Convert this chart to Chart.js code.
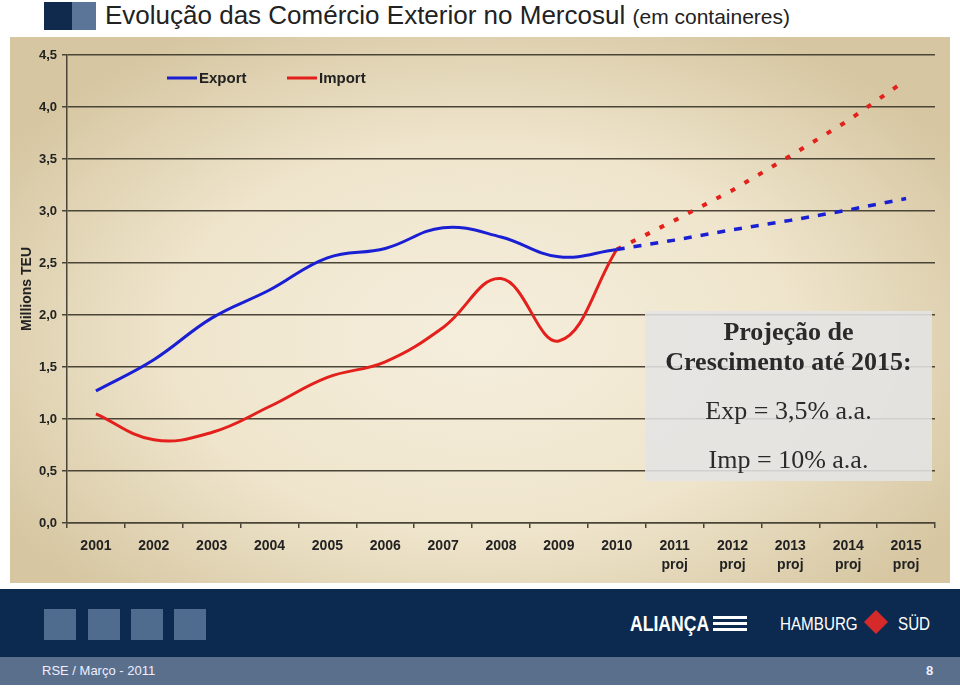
<!DOCTYPE html>
<html>
<head>
<meta charset="utf-8">
<script src="https://cdn.jsdelivr.net/npm/chart.js@4.4.1/dist/chart.umd.min.js"></script>
<style>
  body { margin: 0; width: 960px; height: 690px; background: #fff; position: relative; overflow: hidden; font-family: Arial, "Liberation Sans", sans-serif; }
  .sq { position: absolute; }
  #titulo { position: absolute; left: 105px; top: 0px; font-size: 26px; color: #222; white-space: nowrap; }
  #titulo small { font-size: 21px; }
  #painel { position: absolute; left: 10px; top: 37px; width: 940px; height: 546px;
    background: radial-gradient(ellipse 60% 65% at 50% 55%, #f5eedd 0%, #efe5cc 55%, #d6c6a1 100%); }
  #projecao { position: absolute; left: 645px; top: 311px; width: 287px; height: 170px;
    background: rgba(228,228,228,0.88); font-family: "Liberation Serif", "Times New Roman", serif;
    color: #2a2a2a; text-align: center; font-size: 26px; }
  #projecao div { position: absolute; left: 0; right: 0; white-space: nowrap; }
  #faixa { position: absolute; left: 0; top: 589px; width: 960px; height: 68px; background: #0c2a4f; }
  #rodape { position: absolute; left: 0; top: 657px; width: 960px; height: 28px; background: #5a6f8c; color: #eef; font-size: 13px; }
  .logo { position: absolute; color: #fff; white-space: nowrap; transform-origin: left center; transform: scaleX(0.8); }
</style>
</head>
<body>
<div class="sq" style="left:44px;top:2px;width:28px;height:28px;background:#0f2a4d"></div>
<div class="sq" style="left:72px;top:2px;width:24px;height:28px;background:#5b7598"></div>
<div id="titulo">Evolução das Comércio Exterior no Mercosul <small>(em containeres)</small></div>

<div id="painel"><canvas id="grafico" width="940" height="546"></canvas></div>

<div id="projecao">
  <div style="top:6px;font-weight:bold">Projeção de</div>
  <div style="top:36px;font-weight:bold">Crescimento até 2015:</div>
  <div style="top:85px">Exp = 3,5% a.a.</div>
  <div style="top:134px">Imp = 10% a.a.</div>
</div>

<div id="faixa">
  <div class="sq" style="left:44px;top:20px;width:32px;height:31px;background:#4f6b8d"></div>
  <div class="sq" style="left:88px;top:20px;width:32px;height:31px;background:#4f6b8d"></div>
  <div class="sq" style="left:131px;top:20px;width:32px;height:31px;background:#4f6b8d"></div>
  <div class="sq" style="left:174px;top:20px;width:32px;height:31px;background:#4f6b8d"></div>
  <div class="logo" style="left:630px;top:22px;font-size:22px;font-weight:bold">ALIANÇA</div>
  <div style="position:absolute;left:713px;top:27px;width:34px;height:3px;background:#fff;box-shadow:0 6px 0 #fff,0 12px 0 #fff"></div>
  <div class="logo" style="left:780px;top:24px;font-size:19px">HAMBURG</div>
  <div style="position:absolute;left:866px;top:23px;width:20px;height:20px;background:#d42a2a;transform:rotate(45deg) scale(0.85)"></div>
  <div class="logo" style="left:898px;top:24px;font-size:19px">SÜD</div>
</div>
<div id="rodape">
  <span style="position:absolute;left:42px;top:6px">RSE / Março - 2011</span>
  <span style="position:absolute;left:926px;top:6px;font-weight:bold">8</span>
</div>

<script>
// anos (eixo x) e valores em milhões de TEU
const anos = ['2001', '2002', '2003', '2004', '2005', '2006', '2007', '2008', '2009', '2010',
  ['2011', 'proj'], ['2012', 'proj'], ['2013', 'proj'], ['2014', 'proj'], ['2015', 'proj']];
const exportReal = [1.27, 1.57, 1.97, 2.24, 2.55, 2.64, 2.84, 2.75, 2.56, 2.63];
const importReal = [1.05, 0.80, 0.87, 1.12, 1.40, 1.55, 1.88, 2.35, 1.75, 2.63];
const exportProj = [2.72, 2.82, 2.91, 3.01, 3.12];
const importProj = [2.91, 3.20, 3.53, 3.87, 4.26];
const yTicks = [0, 0.5, 1, 1.5, 2, 2.5, 3, 3.5, 4, 4.5];

const azul = '#1b1fd4';
const vermelho = '#e3201b';

// completa com null para alinhar nas categorias
function serieReal(valores) {
  return valores.concat(new Array(anos.length - valores.length).fill(null));
}
function serieProj(real, proj) {
  const nulos = new Array(real.length - 1).fill(null);
  return nulos.concat([real[real.length - 1]], proj);
}

// legenda desenhada dentro da área do gráfico
const legendaPlugin = {
  id: 'legenda',
  afterDraw(chart) {
    const ctx = chart.ctx;
    const itens = [
      { label: 'Export', cor: azul, x: 157 },
      { label: 'Import', cor: vermelho, x: 277 }
    ];
    const y = 41;
    ctx.save();
    ctx.font = 'bold 15px Arial, "Liberation Sans"';
    ctx.fillStyle = '#222';
    ctx.textBaseline = 'middle';
    itens.forEach(it => {
      ctx.strokeStyle = it.cor;
      ctx.lineWidth = 3;
      ctx.beginPath();
      ctx.moveTo(it.x, y);
      ctx.lineTo(it.x + 30, y);
      ctx.stroke();
      ctx.fillText(it.label, it.x + 32, y + 1);
    });
    ctx.restore();
  }
};

const ctx = document.getElementById('grafico').getContext('2d');
new Chart(ctx, {
  type: 'line',
  data: {
    labels: anos,
    datasets: [
      {
        label: 'Export',
        data: serieReal(exportReal),
        borderColor: azul,
        borderWidth: 3,
        pointRadius: 0,
        tension: 0.4
      },
      {
        label: 'Import',
        data: serieReal(importReal),
        borderColor: vermelho,
        borderWidth: 3,
        pointRadius: 0,
        tension: 0.4
      },
      {
        label: 'Export proj',
        data: serieProj(exportReal, exportProj),
        borderColor: azul,
        borderWidth: 3.5,
        borderDash: [8, 9],
        pointRadius: 0,
        tension: 0
      },
      {
        label: 'Import proj',
        data: serieProj(importReal, importProj),
        borderColor: vermelho,
        borderWidth: 4,
        borderDash: [5, 11],
        pointRadius: 0,
        tension: 0
      }
    ]
  },
  options: {
    responsive: false,
    devicePixelRatio: 1,
    animation: false,
    layout: { padding: { top: 18, right: 15, left: 0, bottom: 0 } },
    plugins: {
      legend: { display: false },
      tooltip: { enabled: false }
    },
    scales: {
      x: {
        offset: true,
        afterFit: scale => { scale.height = 60; },
        grid: { offset: true, drawOnChartArea: false, tickLength: 5, color: '#4a4536', lineWidth: 1.5 },
        border: { color: '#4a4536', width: 1.5 },
        ticks: {
          color: '#222',
          padding: 8,
          maxRotation: 0,
          font: { family: 'Arial, "Liberation Sans"', size: 14, weight: 'bold', lineHeight: 1.4 }
        }
      },
      y: {
        min: 0,
        max: 4.5,
        afterFit: scale => { scale.width = 57; },
        afterBuildTicks: scale => { scale.ticks = yTicks.map(v => ({ value: v })); },
        grid: { color: '#4a4536', lineWidth: 1.5, tickLength: 5 },
        border: { color: '#4a4536', width: 1.5 },
        title: {
          display: true,
          text: 'Millions TEU',
          color: '#222',
          padding: { top: 9, bottom: 0 },
          font: { family: 'Arial, "Liberation Sans"', size: 14, weight: 'bold' }
        },
        ticks: {
          color: '#222',
          padding: 5,
          font: { family: 'Arial, "Liberation Sans"', size: 13, weight: 'bold' },
          callback: v => v.toFixed(1).replace('.', ',')
        }
      }
    }
  },
  plugins: [legendaPlugin]
});
</script>
</body>
</html>
